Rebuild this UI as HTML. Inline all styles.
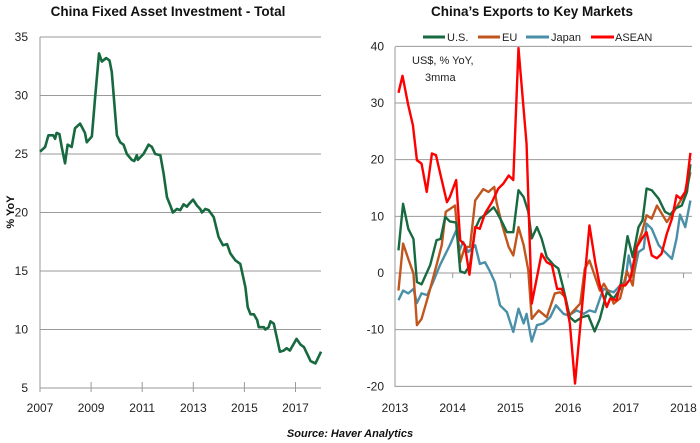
<!DOCTYPE html>
<html><head><meta charset="utf-8"><style>
body{margin:0;background:#fff;}
svg{display:block;font-family:"Liberation Sans",sans-serif;}
</style></head><body>
<svg id="c" width="700" height="443" viewBox="0 0 700 443" xmlns="http://www.w3.org/2000/svg">
<text x="168" y="16" text-anchor="middle" font-size="13.5" font-weight="bold" fill="#111">China Fixed Asset Investment - Total</text>
<text x="532" y="16" text-anchor="middle" font-size="13.5" font-weight="bold" fill="#111">China’s Exports to Key Markets</text>
<text transform="translate(14,212) rotate(-90)" text-anchor="middle" font-size="11" font-weight="bold" fill="#111">% YoY</text>
<text x="350" y="437" text-anchor="middle" font-size="11" font-weight="bold" font-style="italic" fill="#111">Source:  Haver Analytics</text>
<g>
<line x1="423" y1="37" x2="445" y2="37" stroke="#17693f" stroke-width="3"/><text x="447" y="41" font-size="11" fill="#222">U.S.</text>
<line x1="478" y1="37" x2="500" y2="37" stroke="#c0561e" stroke-width="3"/><text x="502" y="41" font-size="11" fill="#222">EU</text>
<line x1="526" y1="37" x2="549" y2="37" stroke="#4a8fa8" stroke-width="3"/><text x="551" y="41" font-size="11" fill="#222">Japan</text>
<line x1="591" y1="37" x2="614" y2="37" stroke="#ff0000" stroke-width="3"/><text x="615" y="41" font-size="11" fill="#222">ASEAN</text>
</g>
<text x="412" y="64" font-size="11" fill="#222">US$, % YoY,</text>
<text x="425" y="81" font-size="11" fill="#222">3mma</text>
</svg>
<script>
// Left chart data
const faiYears=[2007.00,2007.20,2007.33,2007.52,2007.59,2007.65,2007.76,2007.85,2007.98,2008.08,2008.24,2008.37,2008.57,2008.76,2008.83,2009.03,2009.16,2009.31,2009.42,2009.59,2009.72,2009.81,2010.01,2010.14,2010.27,2010.40,2010.59,2010.69,2010.79,2010.83,2011.05,2011.25,2011.38,2011.51,2011.71,2011.84,2011.97,2012.10,2012.20,2012.36,2012.49,2012.62,2012.75,2012.82,2012.99,2013.14,2013.27,2013.34,2013.47,2013.60,2013.80,2013.99,2014.16,2014.32,2014.45,2014.65,2014.84,2015.04,2015.13,2015.24,2015.37,2015.50,2015.56,2015.76,2015.82,2015.95,2016.02,2016.15,2016.39,2016.54,2016.65,2016.78,2017.04,2017.20,2017.33,2017.46,2017.59,2017.78,2018.00];
const faiValues=[25.2,25.6,26.6,26.6,26.3,26.8,26.7,25.6,24.2,25.8,25.6,27.2,27.6,26.8,26.0,26.5,29.9,33.6,32.9,33.2,33.0,32.0,26.6,26.0,25.8,25.0,24.5,24.4,24.9,24.5,25.0,25.8,25.6,25.0,24.9,23.3,21.3,20.6,20.0,20.3,20.2,20.7,20.5,20.7,21.1,20.6,20.3,20.0,20.3,20.2,19.6,17.9,17.2,17.3,16.5,15.9,15.6,13.6,11.9,11.3,11.3,10.8,10.2,10.2,10.0,10.2,10.7,10.5,8.1,8.2,8.4,8.2,9.2,8.7,8.5,7.9,7.3,7.1,8.1];
const leftYTicks=[5,10,15,20,25,30,35];
const leftXTicks=[2007,2009,2011,2013,2015,2017];
// Right chart data
const rightYTicks=[-20,-10,0,10,20,30,40];
const rightXTicks=[2013,2014,2015,2016,2017,2018];
const usYears=[2013.06,2013.14,2013.23,2013.32,2013.38,2013.46,2013.61,2013.72,2013.79,2013.87,2013.95,2014.06,2014.13,2014.21,2014.30,2014.39,2014.47,2014.59,2014.71,2014.76,2014.85,2014.94,2015.05,2015.14,2015.23,2015.31,2015.37,2015.46,2015.54,2015.63,2015.75,2015.83,2015.92,2016.03,2016.12,2016.24,2016.35,2016.46,2016.55,2016.67,2016.79,2016.90,2017.03,2017.12,2017.22,2017.29,2017.36,2017.45,2017.57,2017.68,2017.77,2017.86,2017.97,2018.06,2018.12];
const usValues=[4,12.2,7.8,6,-1.6,-2,1.4,5.8,6,9.9,9.1,8.9,0.3,0,1.4,7.8,9.6,10.5,11.6,10.8,9.1,7.2,7.2,14.6,13.4,10.8,6.1,8.1,6.1,2.8,1.4,0.8,-2.8,-7.8,-8.6,-7.8,-7.5,-10.3,-8.1,-3.4,-4.5,-2.8,6.5,2.8,8.1,9.3,14.9,14.6,13.1,10.8,10.3,11.4,11.9,14.3,19.2];
const euYears=[2013.06,2013.14,2013.23,2013.32,2013.38,2013.46,2013.58,2013.72,2013.81,2013.88,2014.04,2014.13,2014.21,2014.30,2014.39,2014.53,2014.62,2014.72,2014.76,2014.85,2014.97,2015.05,2015.14,2015.23,2015.31,2015.37,2015.49,2015.63,2015.77,2015.86,2015.95,2016.02,2016.21,2016.29,2016.37,2016.47,2016.55,2016.62,2016.73,2016.79,2016.90,2017.02,2017.12,2017.19,2017.28,2017.36,2017.45,2017.54,2017.71,2017.83,2017.97,2018.06,2018.12];
const euValues=[-3.1,5.2,2.5,-0.1,-9.2,-8.1,-3.9,1.4,4.9,10.8,11.9,1.9,4.6,4.6,12.8,14.8,14.3,15.2,12.5,8.7,4.6,3.1,8.1,4.9,0.5,-8.1,-6.6,-7.8,-3.6,-3.4,-4.2,-7.5,-5.4,0.8,2.2,-0.7,-3.1,-1.9,-3.9,-5.4,-4.5,0.3,-2.2,4.6,7.2,10.2,9.6,11.9,9.0,10.8,13.1,14.9,17.8];
const jpYears=[2013.06,2013.14,2013.23,2013.32,2013.38,2013.46,2013.56,2013.66,2013.78,2013.95,2014.06,2014.12,2014.18,2014.27,2014.39,2014.47,2014.56,2014.65,2014.73,2014.82,2014.94,2015.05,2015.14,2015.23,2015.28,2015.37,2015.46,2015.57,2015.69,2015.79,2015.92,2016.01,2016.15,2016.27,2016.37,2016.47,2016.61,2016.79,2016.93,2016.99,2017.05,2017.13,2017.22,2017.31,2017.36,2017.45,2017.57,2017.68,2017.80,2017.88,2017.94,2018.03,2018.12];
const jpValues=[-4.8,-3.1,-3.6,-2.8,-5.3,-3.6,-3.9,-1.6,1.4,4.9,7.5,4.0,5.5,3.7,4.9,1.6,1.9,0.2,-1.6,-5.7,-6.9,-10.4,-6.3,-8.9,-7.2,-12.1,-9.2,-8.9,-7.8,-5.7,-7.2,-7.5,-6.6,-7.2,-6.6,-6.9,-2.8,-3.4,-1.9,-1.6,3.1,-0.7,3.7,4.3,8.7,7.8,4.9,3.7,2.5,6.1,10.3,8.1,12.8];
const aseanYears=[2013.06,2013.13,2013.23,2013.31,2013.38,2013.46,2013.55,2013.64,2013.71,2013.81,2013.90,2013.95,2014.06,2014.13,2014.21,2014.29,2014.39,2014.47,2014.56,2014.68,2014.79,2014.88,2014.97,2015.05,2015.14,2015.28,2015.37,2015.49,2015.54,2015.63,2015.72,2015.81,2015.89,2015.95,2016.03,2016.12,2016.27,2016.37,2016.47,2016.55,2016.67,2016.73,2016.84,2016.90,2016.99,2017.08,2017.19,2017.28,2017.36,2017.45,2017.54,2017.62,2017.71,2017.80,2017.88,2017.95,2018.03,2018.06,2018.12];
const aseanValues=[31.8,34.8,29.6,26.1,19.9,19.3,14.3,21.1,20.8,16.4,12.5,13.4,16.4,5.8,4.9,-0.3,8.1,7.8,10.5,12.5,14.9,15.8,17.2,16.4,39.7,22.8,-5.4,0.8,3.4,1.9,1.4,-2.8,-2.8,-4.5,-8.9,-19.5,-2.8,8.4,1.9,-2.2,-6.0,-4.5,-4.8,-2.2,-2.2,-1.0,4.6,6.1,7.2,3.1,2.6,3.4,6.9,9.6,13.7,13.1,14.3,16.1,21.2];

const NS="http://www.w3.org/2000/svg";
const svg=document.getElementById('c');
function mk(tag,attrs,parent){const e=document.createElementNS(NS,tag);for(const k in attrs)e.setAttribute(k,attrs[k]);(parent||svg).appendChild(e);return e;}

// Left axes
const lx=y=>40+(y-2007)*25.55;
const ly=v=>388-(v-5)*11.7;
const gL=mk('g',{});


leftYTicks.forEach(t=>{
  const l=mk('line',{x1:40,x2:321,y1:ly(t),y2:ly(t),stroke:'#9a9a9a','stroke-width':1},gL);
  
  
  const tx=mk('text',{x:28,y:ly(t)+4,'text-anchor':'end','font-size':12,fill:'#222'},gL);
  tx.textContent=t;
  
  
});
mk('line',{x1:40,x2:40,y1:37,y2:388,stroke:'#9a9a9a'},gL);
leftXTicks.forEach(t=>{
  mk('line',{x1:lx(t),x2:lx(t),y1:382,y2:392,stroke:'#9a9a9a'},gL);
  const tx=mk('text',{x:lx(t),y:412,'text-anchor':'middle','font-size':12,fill:'#222'},gL);
  tx.textContent=t;
  
  
});
const lp=mk('polyline',{points:faiYears.map((y,i)=>lx(y)+','+ly(faiValues[i])).join(' '),fill:'none',stroke:'#17693f','stroke-width':2.6,'stroke-linejoin':'round'},gL);



// Right axes
const rx=y=>395+(y-2013)*57.7;
const ry=v=>273-v*5.667;
const gR=mk('g',{});


rightYTicks.forEach(t=>{
  const l=mk('line',{x1:395,x2:692,y1:ry(t),y2:ry(t),stroke:'#9a9a9a','stroke-width':1},gR);
  
  
  const tx=mk('text',{x:384,y:ry(t)+4,'text-anchor':'end','font-size':12,fill:'#222'},gR);
  tx.textContent=t;
  
  
});
mk('line',{x1:395,x2:395,y1:47,y2:387,stroke:'#9a9a9a'},gR);
rightXTicks.forEach(t=>{
  mk('line',{x1:rx(t),x2:rx(t),y1:273,y2:278,stroke:'#9a9a9a'},gR);
  const tx=mk('text',{x:rx(t),y:412,'text-anchor':'middle','font-size':12,fill:'#222'},gR);
  tx.textContent=t;
  
  
});
function series(ys,vs,color,name){
  const p=mk('polyline',{points:ys.map((y,i)=>rx(y)+','+ry(vs[i])).join(' '),fill:'none',stroke:color,'stroke-width':2.4,'stroke-linejoin':'round'},gR);
  
  
}
series(jpYears,jpValues,'#4a8fa8','japan-line');
series(euYears,euValues,'#c0561e','eu-line');
series(usYears,usValues,'#17693f','us-line');
series(aseanYears,aseanValues,'#ff0000','asean-line');
</script>
</body></html>
